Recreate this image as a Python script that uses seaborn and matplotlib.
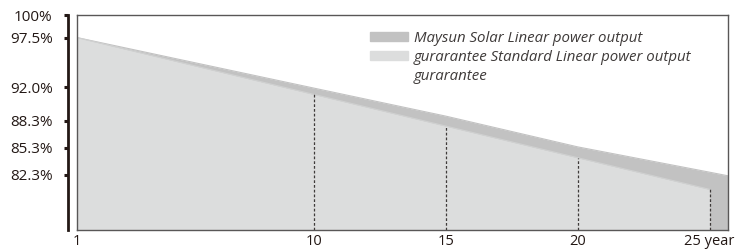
import matplotlib
matplotlib.use("Agg")
import matplotlib.pyplot as plt
import matplotlib.patches as mpatches
import seaborn as sns
import pandas as pd

# Values
years = [1, 10, 15, 20, 25]
maysun = [97.5, 91.9, 88.8, 85.4, 82.6]
standard = [97.5, 91.2, 87.7, 84.2, 80.7]
edge_year = 25.7      # Maysun band runs on to the right border
edge_maysun = 82.2

ytick_vals = [100, 97.5, 92.0, 88.3, 85.3, 82.3]
ytick_labels = ["100%", "97.5%", "92.0%", "88.3%", "85.3%", "82.3%"]
xtick_labels = ["1", "10", "15", "20", "25 year"]

legend_labels = ["Maysun Solar Linear power output",
                 "gurarantee Standard Linear power output",
                 "gurarantee"]

dark_grey = "#c2c2c2"
light_grey = "#dcdddd"
ink = "#231815"
frame = "#595757"

sns.set_theme(style="white")
plt.rcParams["font.family"] = ["Open Sans", "DejaVu Sans"]

df_m = pd.DataFrame({"year": years + [edge_year], "value": maysun + [edge_maysun]})
df_s = pd.DataFrame({"year": years, "value": standard})

W, H = 738, 249
fig = plt.figure(figsize=(W / 100, H / 100), dpi=100)
ax = fig.add_axes([77 / W, 19 / H, 651 / W, 215 / H])

ymin, ymax = 76.2, 100.0

# areas
ax.fill_between(df_m["year"], ymin, df_m["value"], color=dark_grey, lw=0, zorder=1)
ax.fill_between(df_s["year"], ymin, df_s["value"], color=light_grey, lw=0, zorder=2)
sns.lineplot(data=df_m, x="year", y="value", ax=ax, color=dark_grey, lw=0.8, zorder=1)
sns.lineplot(data=df_s, x="year", y="value", ax=ax, color="#d0d1d1", lw=0.8, zorder=2)

# dashed markers at year 10, 15, 20, 25
ax.vlines(years[1:], ymin, standard[1:], colors="#3e3a39", linestyles=(0, (2.2, 1.6)),
          lw=0.9, zorder=3)

ax.set_xlim(1, edge_year)
ax.set_ylim(ymin, ymax)
ax.set_xlabel("")
ax.set_ylabel("")
ax.set_xticks(years)
ax.set_xticklabels(xtick_labels)
ax.tick_params(axis="x", bottom=False, length=0, pad=3, labelsize=10.5, labelcolor=ink)
ax.set_yticks([])
for s in ax.spines.values():
    s.set_color(frame)
    s.set_linewidth(1.0)
    s.set_visible(True)

# separate thick y axis on the left
ay = fig.add_axes([68 / W, 19 / H, 0.0001, 215 / H])
ay.set_facecolor("none")
for k in ["top", "right", "bottom"]:
    ay.spines[k].set_visible(False)
ay.spines["left"].set_color(ink)
ay.spines["left"].set_linewidth(2.0)
ay.set_ylim(ymin, ymax)
ay.set_xticks([])
ay.set_yticks(ytick_vals)
ay.set_yticklabels(ytick_labels)
ay.tick_params(axis="y", left=True, direction="out", length=3, width=2.2, color=ink,
               pad=8, labelsize=11, labelcolor=ink)

handles = [mpatches.Patch(color=dark_grey),
           mpatches.Patch(color=light_grey),
           mpatches.Patch(color="none")]
leg = ax.legend(handles, legend_labels, loc="upper left",
                bbox_to_anchor=(293 / 651, 1 - 16 / 215), frameon=False,
                handlelength=2.5, handleheight=0.55, handletextpad=0.4,
                labelspacing=0.25, borderaxespad=0, borderpad=0,
                prop={"size": 10.8, "style": "italic"})
for t in leg.get_texts():
    t.set_color("#3e3a39")

fig.savefig("out.png", dpi=100)
